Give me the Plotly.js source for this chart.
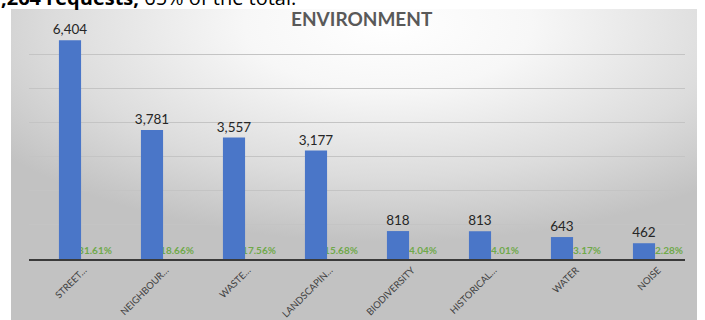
<!DOCTYPE html>
<html>
<head>
<meta charset="utf-8">
<script src="https://cdn.plot.ly/plotly-3.0.1.min.js"></script>
<style>
html,body{margin:0;padding:0;background:#fff;}
#chart{width:705px;height:320px;}
</style>
</head>
<body>
<div id="chart"></div>
<script>
var categories = ["STREET\u2026", "NEIGHBOUR\u2026", "WASTE\u2026", "LANDSCAPIN\u2026", "BIODIVERSITY", "HISTORICAL\u2026", "WATER", "NOISE"];
var requests = [6404, 3781, 3557, 3177, 818, 813, 643, 462];
var shares = [31.61, 18.66, 17.56, 15.68, 4.04, 4.01, 3.17, 2.28];
var zeroBase = [0, 0, 0, 0, 0, 0, 0, 0];
var chartTitle = "ENVIRONMENT";

var W = 705, H = 320;
var mL = 29, mR = 20, mT = 20, mB = 61;
var pw = W - mL - mR, ph = H - mT - mB;
function px2x(p){ return (p - mL) / pw; }
function py2y(p){ return (H - mB - p) / ph; }

var bgSvg = '<svg xmlns="http://www.w3.org/2000/svg" width="686" height="311" viewBox="0 0 686 311" preserveAspectRatio="none">' +
  '<defs><radialGradient id="g" cx="0.55" cy="0.05" r="0.7" gradientUnits="objectBoundingBox">' +
  '<stop offset="0" stop-color="#ffffff"/><stop offset="0.3" stop-color="#f7f7f7"/>' +
  '<stop offset="0.7" stop-color="#dcdcdc"/><stop offset="1" stop-color="#c2c2c2"/>' +
  '</radialGradient></defs><rect width="686" height="311" fill="url(#g)"/></svg>';
var bgSrc = 'data:image/svg+xml;charset=utf-8,' + encodeURIComponent(bgSvg);

var pctTrace = {
  type: 'bar',
  x: categories,
  y: zeroBase,
  width: 0.27,
  offset: 0.17,
  marker: {color: 'rgba(0,0,0,0)'},
  text: shares.map(function(v){ return v.toFixed(2) + '%'; }),
  textposition: 'outside',
  constraintext: 'none',
  textfont: {family: 'Lato, sans-serif', size: 10, color: '#6fa94a', weight: 700},
  cliponaxis: false,
  hoverinfo: 'skip',
  showlegend: false
};

var valTrace = {
  type: 'bar',
  x: categories,
  y: requests,
  width: 0.27,
  marker: {color: '#4a76c8'},
  texttemplate: '%{y:,}',
  textposition: 'outside',
  constraintext: 'none',
  textfont: {family: 'Lato, sans-serif', size: 13.5, color: '#262626'},
  cliponaxis: false,
  showlegend: false
};

var layout = {
  width: W, height: H,
  margin: {l: mL, r: mR, t: mT, b: mB, pad: 0},
  paper_bgcolor: '#ffffff',
  plot_bgcolor: 'rgba(0,0,0,0)',
  barmode: 'overlay',
  showlegend: false,
  xaxis: {
    type: 'category',
    tickangle: -45,
    tickfont: {family: 'Lato, sans-serif', size: 9.5, color: '#404040'},
    ticks: '',
    ticklabelshift: 14,
    showline: true, linecolor: '#3a3a3a', linewidth: 2,
    showgrid: false, zeroline: false,
    fixedrange: true
  },
  yaxis: {
    range: [0, 7000],
    dtick: 1000,
    showticklabels: false,
    ticks: '',
    showgrid: true, gridcolor: '#c4c4c4', gridwidth: 1,
    zeroline: false, showline: false,
    fixedrange: true
  },
  images: [{
    source: bgSrc,
    xref: 'paper', yref: 'paper',
    x: px2x(11), y: py2y(9),
    sizex: (697 - 11) / pw, sizey: (320 - 9) / ph,
    xanchor: 'left', yanchor: 'top',
    sizing: 'stretch', layer: 'below'
  }],
  annotations: [
    {
      text: chartTitle,
      xref: 'paper', yref: 'paper',
      x: px2x(362), y: py2y(18.5),
      xanchor: 'center', yanchor: 'middle',
      showarrow: false,
      font: {family: 'Lato, sans-serif', size: 19, color: '#595959', weight: 700}
    },
    {
      text: '<b>,264 requests,</b> 65% of the total.',
      xref: 'paper', yref: 'paper',
      x: px2x(-1), y: py2y(13),
      xanchor: 'left', yanchor: 'bottom',
      showarrow: false,
      font: {family: '"Open Sans", sans-serif', size: 20, color: '#000000'}
    }
  ]
};

Plotly.newPlot('chart', [pctTrace, valTrace], layout, {displayModeBar: false, staticPlot: true});
</script>
</body>
</html>
